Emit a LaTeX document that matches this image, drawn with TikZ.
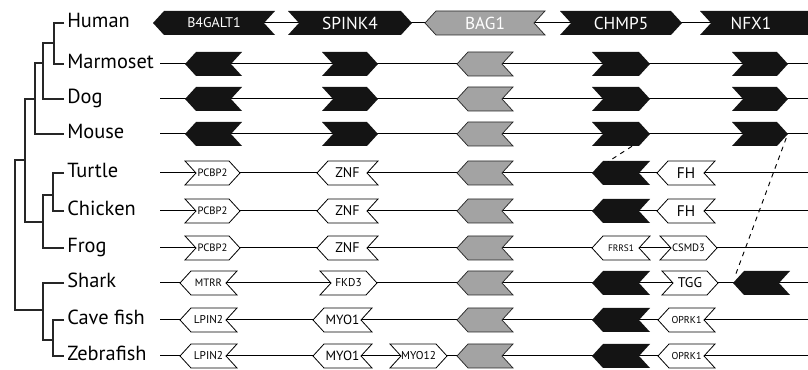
\documentclass[tikz,border=0pt]{standalone}
\usepackage{fontspec}
\setmainfont{PT Sans}
\usetikzlibrary{calc}
\definecolor{geneblack}{RGB}{20,20,20}
\definecolor{genegray}{RGB}{163,163,163}

% gene arrow pointing left: name, tip x, tail x, row y, fill style, text options, text
\newcommand{\geneL}[7]{%
  \path[#5] (#2,#4) -- (#2+11,#4-12) -- (#3,#4-12) -- (#3-11,#4) -- (#3,#4+12) -- (#2+11,#4+12) -- cycle;
  \node[genebox, minimum width={(#3-#2)*0.75pt}, #6] (#1) at ({(#2+#3)/2},#4) {#7};
}
% gene arrow pointing right: name, tail x, tip x, row y, fill style, text options, text
\newcommand{\geneR}[7]{%
  \path[#5] (#2,#4-12) -- (#3-11,#4-12) -- (#3,#4) -- (#3-11,#4+12) -- (#2,#4+12) -- (#2+11,#4) -- cycle;
  \node[genebox, minimum width={(#3-#2)*0.75pt}, #6] (#1) at ({(#2+#3)/2},#4) {#7};
}
\newcommand{\fs}[1]{\fontsize{#1}{#1}\selectfont}

\tikzset{
  x=0.75pt, y=-0.75pt,
  rowline/.style={line width=0.75pt, draw=black},
  treeline/.style={line width=0.9pt, draw=black!85},
  blk/.style={fill=geneblack},
  gry/.style={fill=genegray, draw=black!85, line width=0.55pt, line join=miter},
  wht/.style={fill=white, draw=black, line width=0.6pt, line join=miter},
  genebox/.style={inner sep=0pt, minimum height=18pt, text=black},
  wtxt/.style={text=white},
  species/.style={anchor=base west, inner sep=0pt, font=\fs{15.3}, yshift=-3.6pt},
  link/.style={dashed, dash pattern=on 3.5pt off 3.5pt, line width=0.7pt},
}

\begin{document}
\begin{tikzpicture}
\useasboundingbox (0,0) rectangle (808,370);
\clip (0,0) rectangle (808,370);

% species names
\node[species] (Human)    at (67,23)  {Human};
\node[species] (Marmoset) at (67,64)  {Marmoset};
\node[species] (Dog)      at (67,99)  {Dog};
\node[species] (Mouse)    at (67,134) {Mouse};
\node[species] (Turtle)   at (67,173) {Turtle};
\node[species] (Chicken)  at (67,211) {Chicken};
\node[species] (Frog)     at (67,248) {Frog};
\node[species] (Shark)    at (67,283) {Shark};
\node[species] (Cavefish) at (67,320) {Cave fish};
\node[species] (Zebrafish) at (67,356) {Zebrafish};

% species tree
\draw[treeline] (64,23) -| (54,64) -- (64,64);
\draw[treeline] (54,43) -- (43,43) |- (64,99);
\draw[treeline] (43,63) -- (35,63) |- (64,134);
\draw[treeline] (35,99) -- (25,99) |- (43,222);
\draw[treeline] (64,173) -| (53,211) -- (64,211);
\draw[treeline] (53,195) -- (43,195) |- (64,248);
\draw[treeline] (25,160) -- (15,160) |- (43,310);
\draw[treeline] (64,283) -| (43,340) -- (53,340);
\draw[treeline] (64,320) -| (53,356) -- (64,356);

% chromosome lines
\foreach \n/\y in {hu/23, ma/64, do/99, mo/134, tu/173, ch/211, fr/248, sh/283, cf/320, ze/356}{
  \coordinate (\n start) at (160,\y);
  \coordinate (\n end) at (808,\y);
  \draw[rowline] (\n start) -- (\n end);
}

% Human
\geneL{huB}{153}{275}{23}{blk}{wtxt, font=\fs{10.5}}{B4GALT1}
\geneR{huS}{288}{412}{23}{blk}{wtxt, font=\fs{13}}{SPINK4}
\geneL{huG}{425}{545}{23}{gry}{wtxt, font=\fs{13}}{BAG1}
\geneR{huC}{560}{682}{23}{blk}{wtxt, font=\fs{13}}{CHMP5}
\geneR{huN}{700}{822}{23}{blk}{wtxt, font=\fs{13}, xshift=-7.5pt}{NFX1}

% Marmoset, Dog, Mouse
\foreach \n/\y in {ma/64, do/99, mo/134}{
  \geneL{\n B}{185}{242}{\y}{blk}{}{}
  \geneR{\n S}{322}{378}{\y}{blk}{}{}
  \geneL{\n G}{457}{513}{\y}{gry}{}{}
  \geneR{\n C}{592}{650}{\y}{blk}{}{}
  \geneR{\n N}{732}{788}{\y}{blk}{}{}
}

% Turtle, Chicken
\foreach \n/\y in {tu/173, ch/211}{
  \geneR{\n P}{185}{240}{\y}{wht}{font=\fs{8}}{PCBP2}
  \geneL{\n Z}{317}{378}{\y}{wht}{font=\fs{10.5}}{ZNF}
  \geneL{\n G}{457}{513}{\y}{gry}{}{}
  \geneL{\n C}{592}{650}{\y}{blk}{}{}
  \geneL{\n F}{657}{715}{\y}{wht}{font=\fs{11.5}}{FH}
}

% Frog
\geneR{frP}{185}{240}{248}{wht}{font=\fs{8}}{PCBP2}
\geneL{frZ}{317}{378}{248}{wht}{font=\fs{10.5}}{ZNF}
\geneL{frG}{457}{513}{248}{gry}{}{}
\geneL{frR}{592}{650}{248}{wht}{font=\fs{7}}{FRRS1}
\geneR{frD}{660}{717}{248}{wht}{font=\fs{8}}{CSMD3}

% Shark
\geneL{shM}{180}{237}{283}{wht}{font=\fs{8}}{MTRR}
\geneR{shF}{320}{377}{283}{wht}{font=\fs{8.5}}{FKD3}
\geneL{shG}{457}{513}{283}{gry}{}{}
\geneL{shC}{592}{650}{283}{blk}{}{}
\geneR{shT}{662}{718}{283}{wht}{font=\fs{10.5}}{TGG}
\geneL{shN}{733}{790}{283}{blk}{}{}

% Cave fish
\geneL{cfL}{180}{237}{320}{wht}{font=\fs{8.5}}{LPIN2}
\geneL{cfM}{313}{372}{320}{wht}{font=\fs{10}}{MYO1}
\geneL{cfG}{457}{513}{320}{gry}{}{}
\geneL{cfC}{592}{650}{320}{blk}{}{}
\geneL{cfO}{658}{715}{320}{wht}{font=\fs{7.5}}{OPRK1}

% Zebrafish
\geneL{zeL}{180}{237}{356}{wht}{font=\fs{8.5}}{LPIN2}
\geneL{zeM}{313}{372}{356}{wht}{font=\fs{10}}{MYO1}
\geneR{zeY}{390}{447}{356}{wht}{font=\fs{8.5}}{MYO12}
\geneL{zeG}{457}{513}{356}{gry}{}{}
\geneL{zeC}{592}{650}{356}{blk}{}{}
\geneL{zeO}{658}{715}{356}{wht}{font=\fs{7.5}}{OPRK1}

% relocated genes
\draw[link] ($(moC.south)+(11,0)$) -- ($(tuC.north)+(-13,1)$);
\draw[link] ($(moN.east)+(-2,4)$) -- ($(shN.west)+(2,-6)$);
\end{tikzpicture}
\end{document}
